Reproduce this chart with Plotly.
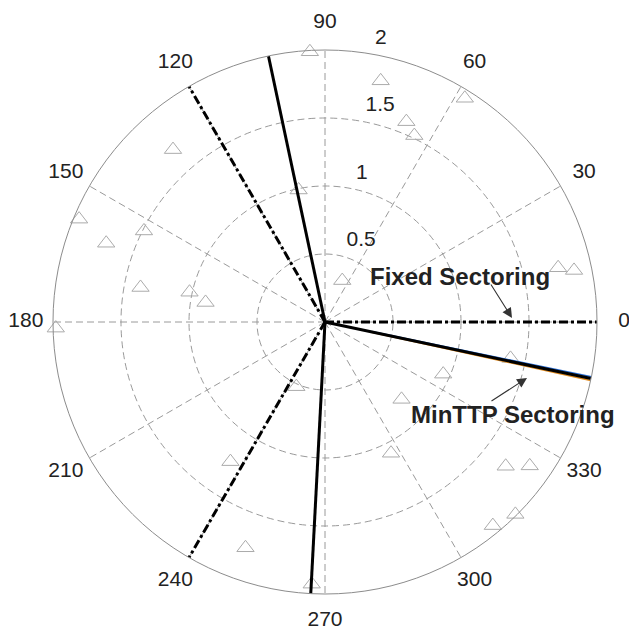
import plotly.graph_objects as go

# ---- data ----
tri_r = [1.69, 1.96, 1.71, 1.49, 1.38, 1.02, 0.89, 1.98, 1.99, 1.82,
         1.94, 1.59, 1.52, 0.99, 0.33, 1.76, 1.87, 1.39, 0.95, 0.80,
         1.08, 1.70, 1.84, 1.99, 1.94, 0.52, 1.24, 1.76, 1.93]
tri_theta = [131.4, 157.3, 160.2, 153.3, 169.4, 167.6, 170.7, 181.3, 93.2, 77.0,
             58.0, 67.9, 64.4, 101.3, 67.4, 13.1, 11.7, 348.9, 336.2, 314.7,
             296.7, 321.4, 324.9, 314.7, 309.5, 246.1, 235.9, 250.6, 267.1]

fixed_theta = [0, 120, 240]        # Fixed Sectoring boundaries (deg)
minttp_theta = [102, 267, 348]     # MinTTP Sectoring boundaries (deg)
r_max = 2.0

angular_ticks = [0, 30, 60, 90, 120, 150, 180, 210, 240, 270, 300, 330]
angular_labels = [str(a) for a in angular_ticks]
radial_ticks = [0.5, 1, 1.5, 2]
radial_labels = ["0.5", "1", "1.5", "2"]

FONT = "Liberation Sans, Arial, sans-serif"
TXT = "#222222"
GRID = "#9a9a9a"


def spokes(thetas, rmax):
    r, t = [], []
    for th in thetas:
        r += [0, rmax, None]
        t += [th, th, None]
    return r, t


fig = go.Figure()

# ---- main polar: grid, markers, sector lines ----
fig.add_trace(go.Scatterpolar(
    r=tri_r, theta=tri_theta, mode="markers",
    marker=dict(symbol="triangle-up-open", size=15, color="#ababab",
                line=dict(width=1, color="#ababab")),
    showlegend=False, hoverinfo="skip", subplot="polar"))

fr, ft = spokes(fixed_theta, r_max)
fig.add_trace(go.Scatterpolar(
    r=fr, theta=ft, mode="lines",
    line=dict(color="black", width=3, dash="dashdot"),
    showlegend=False, hoverinfo="skip", subplot="polar"))

# faint colour fringes seen along the last MinTTP boundary in the scan
last = minttp_theta[-1]
for dth, col in [(0.4, "#2a6fd6"), (-0.4, "#e08a1e")]:
    fig.add_trace(go.Scatterpolar(
        r=[0.35, r_max], theta=[last + dth, last + dth], mode="lines",
        line=dict(color=col, width=1.5),
        showlegend=False, hoverinfo="skip", subplot="polar"))

mr, mt = spokes(minttp_theta, r_max)
fig.add_trace(go.Scatterpolar(
    r=mr, theta=mt, mode="lines",
    line=dict(color="black", width=3),
    showlegend=False, hoverinfo="skip", subplot="polar"))

# ---- label polar (same centre, same scale, larger range) ----
label_r = 1.1 * r_max                      # MATLAB-style angular label radius
fig.add_trace(go.Scatterpolar(
    r=[label_r] * len(angular_ticks), theta=angular_ticks,
    mode="text", text=angular_labels, textposition="middle center",
    textfont=dict(family=FONT, size=21, color=TXT),
    cliponaxis=False, showlegend=False, hoverinfo="skip", subplot="polar2"))

rinc = 0.5
fig.add_trace(go.Scatterpolar(
    r=[v + rinc / 20 for v in radial_ticks], theta=[82] * len(radial_ticks),
    mode="text", text=["  " + s for s in radial_labels], textposition="top right",
    textfont=dict(family=FONT, size=21, color=TXT),
    cliponaxis=False, showlegend=False, hoverinfo="skip", subplot="polar2"))

cx, cy, R = 325, 322, 272
W, H = 629, 642
R2max = 2.21
R2 = R * R2max / r_max


def dom(rad):
    return dict(x=[(cx - rad) / W, (cx + rad) / W],
                y=[(H - cy - rad) / H, (H - cy + rad) / H])


fig.update_layout(
    width=W, height=H,
    margin=dict(l=0, r=0, t=0, b=0),
    paper_bgcolor="white", plot_bgcolor="white",
    font=dict(family=FONT, size=21, color=TXT),
    polar=dict(
        domain=dom(R),
        bgcolor="white",
        angularaxis=dict(
            tickmode="array", tickvals=angular_ticks,
            direction="counterclockwise", rotation=0,
            showticklabels=False, ticks="",
            showline=True, linecolor="#8c8c8c", linewidth=1,
            showgrid=True, gridcolor=GRID, gridwidth=1, griddash="7px,4px"),
        radialaxis=dict(
            range=[0, r_max], tickmode="array", tickvals=radial_ticks,
            showticklabels=False, ticks="", showline=False,
            showgrid=True, gridcolor=GRID, gridwidth=1, griddash="7px,4px"),
    ),
    polar2=dict(
        domain=dom(R2),
        bgcolor="rgba(0,0,0,0)",
        angularaxis=dict(visible=False, direction="counterclockwise", rotation=0),
        radialaxis=dict(visible=False, range=[0, R2max]),
    ),
)

# annotations with arrows
fig.add_annotation(xref="paper", yref="paper", xanchor="center", yanchor="middle",
                   x=460 / W, y=1 - 276 / H, text="<b>Fixed Sectoring</b>",
                   showarrow=False, font=dict(family=FONT, size=24, color=TXT))
fig.add_annotation(xref="paper", yref="paper",
                   x=512 / W, y=1 - 318 / H, axref="pixel", ayref="pixel",
                   ax=490 - 512, ay=283 - 318, text="", showarrow=True,
                   arrowhead=2, arrowsize=1.8, arrowwidth=1.1, arrowcolor="#333333")
fig.add_annotation(xref="paper", yref="paper", xanchor="center", yanchor="middle",
                   x=513 / W, y=1 - 414 / H, text="<b>MinTTP Sectoring</b>",
                   showarrow=False, font=dict(family=FONT, size=24, color=TXT))
fig.add_annotation(xref="paper", yref="paper",
                   x=527 / W, y=1 - 378 / H, axref="pixel", ayref="pixel",
                   ax=490 - 527, ay=402 - 378, text="", showarrow=True,
                   arrowhead=2, arrowsize=1.8, arrowwidth=1.1, arrowcolor="#333333")

fig.write_html("out.html")
